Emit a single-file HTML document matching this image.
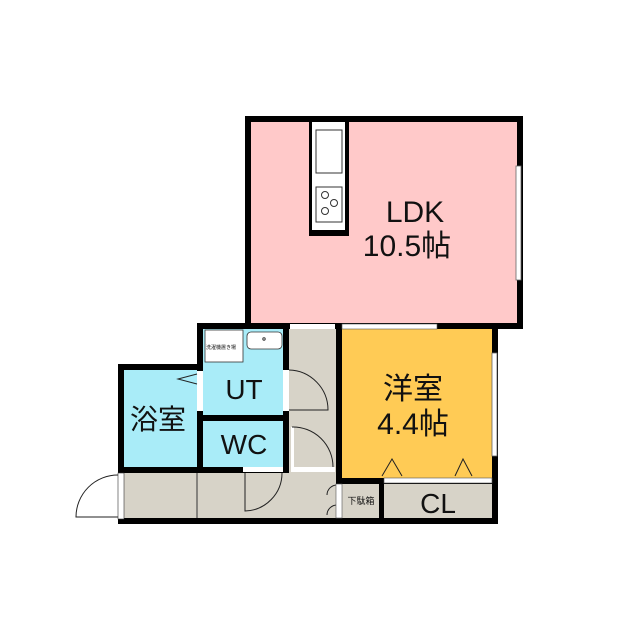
<!DOCTYPE html>
<html><head><meta charset="utf-8"><style>
html,body{margin:0;padding:0;background:#fff;}
svg{display:block}
text{font-family:"Liberation Sans","Noto Sans CJK JP",sans-serif;fill:#111}
</style></head><body>
<svg width="640" height="640" viewBox="0 0 640 640" xmlns="http://www.w3.org/2000/svg">
<rect x="245" y="116" width="278" height="213" fill="#000"/>
<rect x="251" y="122" width="266" height="201" fill="#ffc9c9"/>
<rect x="309" y="122" width="40" height="114" fill="#000"/>
<rect x="312" y="122" width="33" height="108" fill="#fff"/>
<rect x="316" y="130" width="26" height="43" fill="#fff" stroke="#333" stroke-width="1"/>
<rect x="316" y="187" width="26" height="35" fill="#fff" stroke="#333" stroke-width="1"/>
<circle cx="325" cy="195" r="3.5" fill="none" stroke="#333"/>
<circle cx="334" cy="203" r="3.5" fill="none" stroke="#333"/>
<circle cx="325" cy="211" r="3.5" fill="none" stroke="#333"/>
<rect x="516" y="166" width="5" height="114" fill="#fff" stroke="#666" stroke-width="0.8"/>
<rect x="197" y="323" width="301" height="201" fill="#000"/>
<rect x="118" y="364" width="85" height="160" fill="#000"/>
<rect x="124" y="370" width="73" height="97" fill="#a9ecf8"/>
<rect x="203" y="329" width="80" height="86" fill="#a9ecf8"/>
<rect x="205" y="330" width="38" height="32" fill="#fff" stroke="#333" stroke-width="0.8"/>
<text x="206" y="349" font-size="5">洗濯機置き場</text>
<rect x="247" y="332" width="35" height="17" rx="4" fill="#fff" stroke="#333" stroke-width="0.8"/>
<circle cx="264" cy="339" r="1.2" fill="none" stroke="#333"/>
<rect x="203" y="421" width="80" height="46" fill="#a9ecf8"/>
<rect x="289" y="329" width="47" height="146" fill="#d7d3c8"/>
<rect x="290" y="324" width="45" height="5" fill="#fff"/>
<rect x="124" y="473" width="212" height="45" fill="#d7d3c8"/>
<rect x="289" y="473" width="47" height="45" fill="#d7d3c8"/>
<line x1="197" y1="473" x2="197" y2="518" stroke="#333" stroke-width="1"/>
<rect x="118" y="473" width="6" height="46" fill="#fff" stroke="#333" stroke-width="0.6"/>
<path d="M118 475 A42 42 0 0 0 76 517 L118 517" fill="none" stroke="#222"/>
<rect x="342" y="329" width="150" height="149" fill="#ffcb55"/>
<rect x="342" y="324" width="95" height="5" fill="#fff" stroke="#555" stroke-width="0.6"/>
<rect x="492" y="353" width="5" height="103" fill="#fff" stroke="#666" stroke-width="0.8"/>
<path d="M382 476 L392 459 L402 476" fill="none" stroke="#222"/>
<path d="M455 476 L463 459 L472 476" fill="none" stroke="#222"/>
<rect x="342" y="484" width="37" height="34" fill="#d7d3c8"/>
<rect x="384" y="484" width="108" height="34" fill="#d7d3c8"/>
<rect x="384" y="478" width="108" height="5" fill="#fff" stroke="#555" stroke-width="0.6"/>
<rect x="283" y="370" width="6" height="41" fill="#fff"/>
<path d="M289 370 A40 40 0 0 1 328 410 L289 410" fill="none" stroke="#222"/>
<rect x="291" y="427" width="3" height="41" fill="#fff"/>
<path d="M292 427 A40 40 0 0 1 333 467" fill="none" stroke="#222"/>
<rect x="291" y="467" width="44" height="5" fill="#fff"/>
<rect x="243" y="467" width="40" height="5" fill="#fff"/>
<path d="M245 473 L245 511 A38 38 0 0 0 282 473" fill="none" stroke="#222"/>
<rect x="197" y="371" width="6" height="40" fill="#fff"/>
<path d="M197 374 L178 379 L197 384" fill="none" stroke="#222"/>
<path d="M337 485 A10 10 0 0 0 327 495 M337 505 A10 10 0 0 0 327 515" fill="none" stroke="#222"/>
<rect x="336" y="484" width="6" height="34" fill="#fff" stroke="#555" stroke-width="0.6"/>
<text x="415" y="222" font-size="30" text-anchor="middle">LDK</text>
<text x="407" y="256" font-size="30" text-anchor="middle">10.5帖</text>
<text x="413" y="399" font-size="30" text-anchor="middle">洋室</text>
<text x="413" y="434" font-size="30" text-anchor="middle">4.4帖</text>
<text x="244" y="399" font-size="28" text-anchor="middle">UT</text>
<text x="244" y="454" font-size="28" text-anchor="middle">WC</text>
<text x="158" y="429" font-size="28" text-anchor="middle">浴室</text>
<text x="438" y="513" font-size="28" text-anchor="middle">CL</text>
<text x="361" y="504" font-size="9" text-anchor="middle">下駄箱</text>
</svg>
</body></html>
